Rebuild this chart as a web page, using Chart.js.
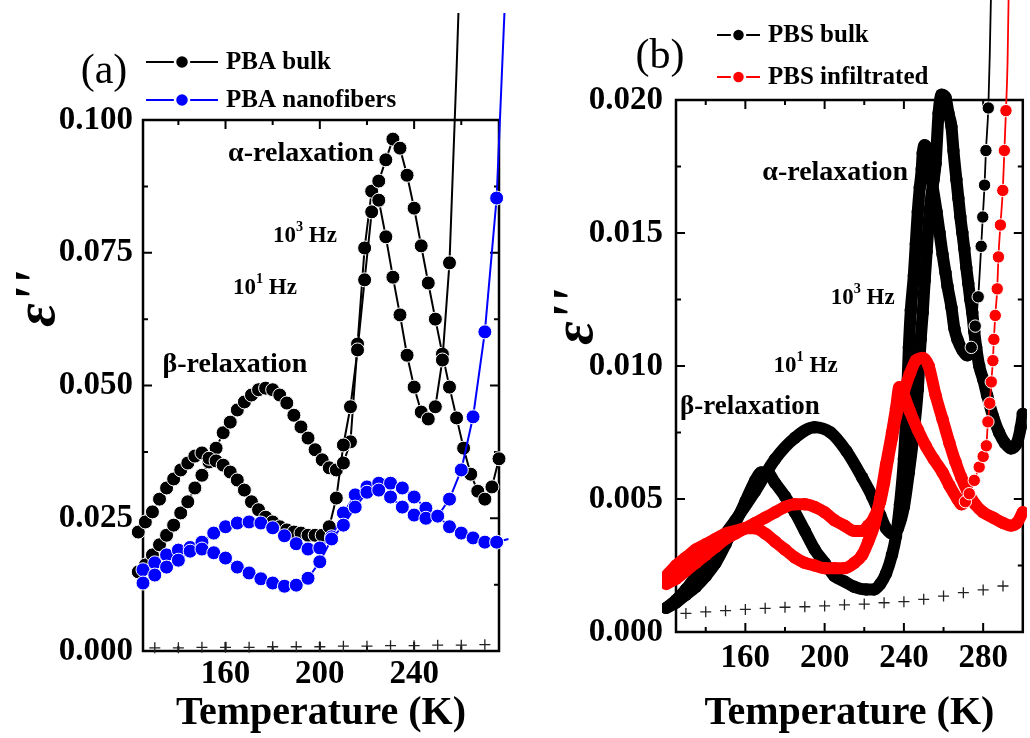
<!DOCTYPE html>
<html>
<head>
<meta charset="utf-8">
<title>Dielectric loss vs temperature</title>
<script src="https://cdn.jsdelivr.net/npm/chart.js@4.4.1/dist/chart.umd.min.js"></script>
<style>
  html, body { margin: 0; padding: 0; background: #fff; }
  #figure { position: relative; width: 1030px; height: 738px; overflow: hidden; }
  #figure canvas { position: absolute; top: 0; }
  #panelA { left: 0; }
  #panelB { left: 515px; }
</style>
</head>
<body>
<div id="figure">
  <canvas id="panelA" width="515" height="738"></canvas>
  <canvas id="panelB" width="515" height="738"></canvas>
</div>
<script>
// ---- (a) PBA: bulk and nanofibers ----
const pbaBulkTemps = [123, 126, 129, 132, 135, 138, 141, 144, 147, 150, 153, 156, 159, 162, 165, 168, 171, 174, 177, 180,
  183, 186, 189, 192, 195, 198, 201, 204, 207, 210, 213, 216, 219, 222, 225, 228, 231, 234, 237, 240,
  243, 246, 249, 252, 255, 258, 261, 264, 267, 270, 273, 276];
const pbaBulk10Hz = [0.0224, 0.0243, 0.0262, 0.0286, 0.0307, 0.0324, 0.0341, 0.0354, 0.0367, 0.0373,
  0.0363, 0.0358, 0.0350, 0.0337, 0.0322, 0.0303, 0.0281, 0.0266, 0.0252, 0.0243,
  0.0234, 0.0228, 0.0224, 0.0222, 0.0218, 0.0218, 0.0218, 0.0234, 0.0288, 0.0388,
  0.0460, 0.0567, 0.0699, 0.0827, 0.0849, 0.0780, 0.0704, 0.0633, 0.0557, 0.0497,
  0.0450, 0.0437, 0.0460, 0.0548, 0.0731, 0.1094, 0.150];
const pbaBulk1kHz = [0.0149, 0.0162, 0.0181, 0.0200, 0.0218, 0.0237, 0.0260, 0.0281, 0.0307, 0.0331,
  0.0356, 0.0382, 0.0411, 0.0431, 0.0454, 0.0469, 0.0482, 0.0492, 0.0495, 0.0492,
  0.0482, 0.0467, 0.0444, 0.0422, 0.0401, 0.0379, 0.0360, 0.0345, 0.0341, 0.0354,
  0.0394, 0.0578, 0.0759, 0.0866, 0.0885, 0.0925, 0.0964, 0.0947, 0.0896, 0.0834,
  0.0763, 0.0693, 0.0625, 0.0559, 0.0497, 0.0439, 0.0382, 0.0333, 0.0301, 0.0286,
  0.0309, 0.0362];

const pbaFiberTemps = [125, 130, 135, 140, 145, 150, 155, 160, 165, 170, 175, 180, 185, 190, 195, 200,
  205, 210, 215, 220, 225, 230, 235, 240, 245, 250, 255, 260, 265, 270, 275, 280];
const pbaFiber10Hz = [0.0128, 0.0143, 0.0158, 0.0171, 0.0188, 0.0192, 0.0185, 0.0175, 0.0158, 0.0147,
  0.0136, 0.0128, 0.0122, 0.0124, 0.0137, 0.0168, 0.0211, 0.0237, 0.0271, 0.0299,
  0.0303, 0.0290, 0.0271, 0.0256, 0.0250, 0.0254, 0.0286, 0.0341, 0.0441, 0.0601,
  0.0853, 0.138];
const pbaFiber1kHz = [0.0153, 0.0166, 0.0181, 0.0190, 0.0195, 0.0205, 0.0222, 0.0234, 0.0241, 0.0243,
  0.0241, 0.0232, 0.0217, 0.0202, 0.0192, 0.0194, 0.0215, 0.0260, 0.0294, 0.0309,
  0.0316, 0.0316, 0.0307, 0.0290, 0.0269, 0.0254, 0.0234, 0.0222, 0.0213, 0.0205,
  0.0205, 0.0211];

const pbaBaselineTemps = [130, 140, 150, 160, 170, 180, 190, 200, 210, 220, 230, 240, 250, 260, 270, 280];
const pbaBaseline = [0.0006, 0.0006, 0.0007, 0.0007, 0.0007, 0.0008, 0.0008, 0.0008,
  0.0009, 0.0009, 0.0010, 0.0010, 0.0011, 0.0011, 0.0012, 0.0013];

// ---- (b) PBS: bulk and infiltrated ----
const pbsBulk10HzTemps = [120, 125, 130, 135, 140, 145, 150, 155, 160, 165, 168, 171, 175, 180, 185, 190, 195, 200, 205, 210,
  215, 221, 225, 228, 231, 234, 236, 238, 240, 241.5, 242.5, 243.5, 245, 246, 247, 248, 249, 249.5, 250.5, 252,
  254, 256.5, 258, 259.5, 261, 262, 264, 265.5, 267, 269.5, 272, 274, 276, 277.5, 279, 279.8, 280.7, 281.4, 282.6, 283.3,
  284.5];
const pbsBulk10Hz = [0.0009, 0.0011, 0.0014, 0.0017, 0.0021, 0.0026, 0.0033, 0.0041, 0.0049, 0.0057,
  0.0060, 0.0060, 0.0056, 0.0051, 0.0045, 0.0038, 0.0031, 0.0026, 0.0021, 0.0019,
  0.0017, 0.0016, 0.0016, 0.0018, 0.0022, 0.0029, 0.0036, 0.0048, 0.0065, 0.0087,
  0.0107, 0.0121, 0.0134, 0.0146, 0.0158, 0.0167, 0.0174, 0.0180, 0.0183, 0.0181,
  0.0170, 0.0158, 0.0150, 0.0142, 0.0135, 0.0130, 0.0122, 0.0114, 0.0110, 0.0106,
  0.0104, 0.0107, 0.0115, 0.0126, 0.0145, 0.0156, 0.0168, 0.0181, 0.0197, 0.0216,
  0.026];
const pbsBulk1kHzTemps = [120, 125, 130, 135, 145, 155, 165, 175, 185, 195, 203, 211, 219, 224, 228, 231, 234, 237, 240, 242.5,
  244.5, 247, 248.5, 249.5, 250.5, 251.5, 252.5, 253.5, 255, 256, 257.5, 259, 261, 262.5, 264, 265, 266.5, 267.5, 268.5, 269.5,
  270.5, 271.5, 272.5, 273.5, 274.5, 275.5, 276.5, 278, 280, 282, 285, 288, 291, 294, 297, 299, 300];
const pbsBulk1kHz = [0.0009, 0.0012, 0.0016, 0.0021, 0.0032, 0.0042, 0.0053, 0.0065, 0.0073, 0.0077,
  0.0075, 0.0068, 0.0058, 0.0051, 0.0044, 0.0039, 0.0037, 0.0039, 0.0047, 0.0060,
  0.0072, 0.0091, 0.0110, 0.0120, 0.0132, 0.0143, 0.0154, 0.0162, 0.0170, 0.0176,
  0.0195, 0.0202, 0.0201, 0.0195, 0.0190, 0.0181, 0.0170, 0.0163, 0.0156, 0.0150,
  0.0144, 0.0137, 0.0131, 0.0125, 0.0120, 0.0113, 0.0107, 0.0100, 0.0095, 0.0089,
  0.0081, 0.0075, 0.0071, 0.0069, 0.0071, 0.0077, 0.0082];

const pbsInf10HzTemps = [120, 125, 130, 135, 140, 145, 150, 155, 160, 165, 170, 175, 180, 185, 190, 195, 200, 205, 210, 215,
  219, 222, 225, 228, 231, 234, 236, 237.7, 240, 243, 247, 251, 255, 259.5, 263, 267, 269, 271, 273, 275.5,
  278, 280, 281.6, 282.4, 283.3, 284.1, 284.9, 285.4, 286.1, 287.1, 287.7, 288.7, 289.9, 290.7, 291.5, 292.3, 293.5];
const pbsInf10Hz = [0.0021, 0.0025, 0.0028, 0.0031, 0.0033, 0.0035, 0.0037, 0.0038, 0.0039, 0.0039,
  0.0037, 0.0034, 0.0031, 0.0028, 0.0026, 0.0025, 0.0024, 0.0024, 0.0024, 0.0026,
  0.0029, 0.0034, 0.0040, 0.0050, 0.0063, 0.0075, 0.0084, 0.0092, 0.0089, 0.0083,
  0.0076, 0.0070, 0.0065, 0.0060, 0.0055, 0.0050, 0.0048, 0.0049, 0.0052, 0.0057,
  0.0062, 0.0066, 0.0070, 0.0079, 0.0086, 0.0094, 0.0102, 0.0110, 0.0119, 0.0129,
  0.0141, 0.0153, 0.0166, 0.0181, 0.0196, 0.0214, 0.027];
const pbsInf1kHzTemps = [120, 125, 130, 135, 140, 145, 150, 155, 160, 165, 170, 175, 180, 185, 190, 195, 200, 205, 210, 215,
  219, 222, 225, 228, 230, 232, 234, 236, 239, 243, 246, 249.6, 252.5, 256, 259.5, 263, 266, 269, 272, 276,
  280, 285, 290, 294, 297, 300];
const pbsInf1kHz = [0.0018, 0.0020, 0.0023, 0.0026, 0.0029, 0.0032, 0.0035, 0.0037, 0.0039, 0.0041,
  0.0043, 0.0045, 0.0047, 0.0048, 0.0048, 0.0047, 0.0045, 0.0042, 0.0040, 0.0038,
  0.0038, 0.0040, 0.0043, 0.0049, 0.0056, 0.0065, 0.0073, 0.0081, 0.0088, 0.0097,
  0.0102, 0.0103, 0.0100, 0.0089, 0.0080, 0.0071, 0.0064, 0.0058, 0.0053, 0.0048,
  0.0045, 0.0043, 0.0041, 0.0040, 0.0041, 0.0045];

const pbsBaselineTemps = [130, 140, 150, 160, 170, 180, 190, 200, 210, 220, 230, 240, 250, 260, 270, 280, 290];
const pbsBaseline = [0.0007, 0.00076, 0.0008, 0.00085, 0.00089, 0.00093, 0.00095, 0.00098, 0.00102,
  0.00105, 0.0011, 0.00114, 0.00123, 0.00135, 0.00148, 0.00158, 0.00173];

// where the sparse high-temperature runs start (thin line, separate dots)
const pbsBulk10HzTailFrom = 274;
const pbsInf10HzTailFrom = 271;

const SERIF = '"Liberation Serif", "Times New Roman", serif';
const BLUE = "#0000ff";
const RED = "#ff0000";

function toPoints(temps, values) {
  return values.map((value, i) => ({ x: temps[i], y: value }));
}

function serif(size, weight, style) {
  return `${style || "normal"} ${weight || "normal"} ${size}px ${SERIF}`;
}

// inward tick marks on all four sides plus the closed frame
function drawAxisTicks(ctx, scale, area, horizontal) {
  const major = scale.ticks.map((t) => t.value);
  const half = (major[1] - major[0]) / 2;
  const eps = half / 100;
  for (let v = Math.ceil((scale.min - eps) / half) * half; v <= scale.max + eps; v += half) {
    if (Math.abs(v - scale.min) < eps || Math.abs(v - scale.max) < eps) continue;
    const len = major.some((m) => Math.abs(m - v) < eps) ? 9 : 5;
    const p = scale.getPixelForValue(v);
    ctx.beginPath();
    if (horizontal) {
      ctx.moveTo(p, area.bottom); ctx.lineTo(p, area.bottom - len);
      ctx.moveTo(p, area.top); ctx.lineTo(p, area.top + len);
    } else {
      ctx.moveTo(area.left, p); ctx.lineTo(area.left + len, p);
      ctx.moveTo(area.right, p); ctx.lineTo(area.right - len, p);
    }
    ctx.stroke();
  }
}

const frameTicks = {
  id: "frameTicks",
  beforeDatasetsDraw(chart) {
    const { ctx, chartArea: area, scales } = chart;
    ctx.save();
    ctx.strokeStyle = "#000";
    ctx.lineWidth = 2;
    drawAxisTicks(ctx, scales.x, area, true);
    drawAxisTicks(ctx, scales.y, area, false);
    ctx.lineWidth = 2.5;
    ctx.strokeRect(area.left, area.top, area.right - area.left, area.bottom - area.top);
    ctx.restore();
  },
};

function drawSupText(ctx, cx, cy, base, sup, rest, size) {
  ctx.font = serif(size, "bold");
  const wBase = ctx.measureText(base).width;
  const wRest = ctx.measureText(rest).width;
  ctx.font = serif(size * 0.62, "bold");
  const wSup = ctx.measureText(sup).width;
  let x = cx - (wBase + wSup + wRest) / 2;
  ctx.textAlign = "left";
  ctx.textBaseline = "middle";
  ctx.font = serif(size, "bold");
  ctx.fillText(base, x, cy);
  x += wBase;
  ctx.font = serif(size * 0.62, "bold");
  ctx.fillText(sup, x, cy - size * 0.36);
  x += wSup;
  ctx.font = serif(size, "bold");
  ctx.fillText(rest, x, cy);
}

// panel letter, legend rows, y title and the in-plot notes
const panelText = {
  id: "panelText",
  afterDraw(chart, _args, opts) {
    const { ctx, scales } = chart;
    ctx.save();
    ctx.fillStyle = "#000";

    ctx.font = serif(opts.letter.size);
    ctx.textAlign = "center";
    ctx.textBaseline = "middle";
    ctx.fillText(opts.letter.text, opts.letter.x, opts.letter.y);

    opts.legend.forEach((row) => {
      ctx.strokeStyle = row.color;
      ctx.lineWidth = 2;
      ctx.beginPath();
      ctx.moveTo(row.x1, row.y);
      ctx.lineTo(row.x2, row.y);
      ctx.stroke();
      ctx.beginPath();
      ctx.arc((row.x1 + row.x2) / 2, row.y, row.r, 0, Math.PI * 2);
      ctx.fillStyle = row.color;
      ctx.fill();
      ctx.strokeStyle = "#fff";
      ctx.lineWidth = 2.5;
      ctx.stroke();
      ctx.fillStyle = "#000";
      ctx.font = serif(opts.legendSize, "bold");
      ctx.textAlign = "left";
      ctx.textBaseline = "middle";
      ctx.fillText(row.text, row.x2 + 8, row.y + 1);
    });

    ctx.save();
    ctx.translate(opts.yTitle.x, opts.yTitle.y);
    ctx.rotate(-Math.PI / 2);
    ctx.font = serif(opts.yTitle.size, "bold", "italic");
    ctx.textAlign = "center";
    ctx.textBaseline = "middle";
    ctx.fillText("\u03b5''", 0, 0);
    ctx.restore();

    opts.notes.forEach((note) => {
      const cx = scales.x.getPixelForValue(note.t);
      const cy = scales.y.getPixelForValue(note.e);
      if (note.sup) {
        drawSupText(ctx, cx, cy, note.text, note.sup, note.rest, note.size);
      } else {
        ctx.font = serif(note.size, "bold");
        ctx.textAlign = "center";
        ctx.textBaseline = "middle";
        ctx.fillText(note.text, cx, cy);
      }
    });
    ctx.restore();
  },
};

function baseline(temps, values, clip) {
  return {
    data: toPoints(temps, values),
    showLine: false,
    pointStyle: "cross",
    pointRadius: 5.5,
    pointBorderWidth: 1.3,
    pointBorderColor: "#222",
    order: 0,
    clip,
  };
}

function pbaSeries(temps, values, color, order) {
  return {
    data: toPoints(temps, values),
    borderColor: color,
    borderWidth: 2,
    pointRadius: 7,
    pointBackgroundColor: color,
    pointBorderColor: "#fff",
    pointBorderWidth: 1,
    tension: 0,
    order,
    clip: { left: 14, top: 107, right: 14, bottom: 8 },
  };
}

function pbsSeries(temps, values, color, tailFrom, order) {
  return {
    data: toPoints(temps, values),
    borderColor: color,
    borderWidth: 12,
    borderJoinStyle: "round",
    borderCapStyle: "round",
    cubicInterpolationMode: "monotone",
    segment: {
      borderWidth: (ctx) => (ctx.p0.parsed.x >= tailFrom ? 1.8 : 12),
    },
    pointRadius: 6.2,
    pointBackgroundColor: color,
    pointBorderColor: "#fff",
    pointBorderWidth: (ctx) => (ctx.raw && ctx.raw.x >= tailFrom ? 1 : 0),
    order,
    clip: { left: 14, top: 100, right: 4, bottom: 6 },
  };
}

function scalesFor(xMin, xMax, yMax, yStep, yWidth, xHeight, yPad, xPad) {
  const tickFont = { family: SERIF, size: 33, weight: "bold" };
  return {
    x: {
      type: "linear",
      min: xMin,
      max: xMax,
      grid: { display: false },
      border: { display: false },
      ticks: { stepSize: 40, includeBounds: false, padding: xPad, color: "#000", font: tickFont, maxRotation: 0 },
      title: {
        display: true,
        text: "Temperature (K)",
        color: "#000",
        font: { family: SERIF, size: 40, weight: "bold" },
        padding: { top: 0, bottom: 0 },
      },
      afterFit: (scale) => { scale.height = xHeight; },
    },
    y: {
      type: "linear",
      min: 0,
      max: yMax,
      grid: { display: false },
      border: { display: false },
      ticks: {
        stepSize: yStep,
        includeBounds: false,
        padding: yPad,
        color: "#000",
        font: tickFont,
        callback: (value) => value.toFixed(3),
      },
      afterFit: (scale) => { scale.width = yWidth; },
    },
  };
}

function commonOptions(padding, scales, text) {
  return {
    responsive: false,
    animation: false,
    devicePixelRatio: 1,
    events: [],
    layout: { padding },
    plugins: { legend: { display: false }, tooltip: { enabled: false }, panelText: text },
    scales,
  };
}

new Chart(document.getElementById("panelA"), {
  type: "line",
  data: {
    datasets: [
      pbaSeries(pbaFiberTemps, pbaFiber10Hz, BLUE, 1),
      pbaSeries(pbaFiberTemps, pbaFiber1kHz, BLUE, 1),
      pbaSeries(pbaBulkTemps, pbaBulk10Hz, "#000", 2),
      pbaSeries(pbaBulkTemps, pbaBulk1kHz, "#000", 2),
      baseline(pbaBaselineTemps, pbaBaseline, { left: 14, top: 0, right: 16, bottom: 8 }),
    ],
  },
  options: commonOptions(
    { left: 0, top: 120, right: 16, bottom: 0 },
    scalesFor(125, 276, 0.1, 0.025, 143, 87, 2, -4),
    {
      letter: { text: "(a)", x: 104, y: 72, size: 42 },
      legendSize: 25,
      legend: [
        { text: "PBA bulk", color: "#000", x1: 146, x2: 218, y: 62, r: 7 },
        { text: "PBA nanofibers", color: BLUE, x1: 146, x2: 218, y: 100, r: 7 },
      ],
      yTitle: { x: 39, y: 299, size: 58 },
      notes: [
        { text: "\u03b1-relaxation", t: 192.0, e: 0.0936, size: 28 },
        { text: "10", sup: "3", rest: " Hz", t: 193.7, e: 0.0782, size: 23 },
        { text: "10", sup: "1", rest: " Hz", t: 176.7, e: 0.0684, size: 23 },
        { text: "\u03b2-relaxation", t: 164.0, e: 0.0539, size: 28 },
      ],
    }
  ),
  plugins: [frameTicks, panelText],
});

new Chart(document.getElementById("panelB"), {
  type: "line",
  data: {
    datasets: [
      pbsSeries(pbsInf10HzTemps, pbsInf10Hz, RED, pbsInf10HzTailFrom, 1),
      pbsSeries(pbsInf1kHzTemps, pbsInf1kHz, RED, Infinity, 1),
      pbsSeries(pbsBulk10HzTemps, pbsBulk10Hz, "#000", pbsBulk10HzTailFrom, 2),
      pbsSeries(pbsBulk1kHzTemps, pbsBulk1kHz, "#000", Infinity, 2),
      baseline(pbsBaselineTemps, pbsBaseline, { left: 14, top: 0, right: 4, bottom: 6 }),
    ],
  },
  options: commonOptions(
    { left: 0, top: 100, right: 2, bottom: 0 },
    scalesFor(125, 300, 0.02, 0.005, 161, 106, 5, -1),
    {
      letter: { text: "(b)", x: 145, y: 57, size: 42 },
      legendSize: 25,
      legend: [
        { text: "PBS bulk", color: "#000", x1: 202, x2: 245, y: 35, r: 6.5 },
        { text: "PBS infiltrated", color: RED, x1: 202, x2: 245, y: 77, r: 6.5 },
      ],
      yTitle: { x: 62, y: 317, size: 58 },
      notes: [
        { text: "\u03b1-relaxation", t: 205.3, e: 0.01726, size: 28 },
        { text: "10", sup: "3", rest: " Hz", t: 219.2, e: 0.01256, size: 23 },
        { text: "10", sup: "1", rest: " Hz", t: 190.4, e: 0.0100, size: 23 },
        { text: "\u03b2-relaxation", t: 162.3, e: 0.00846, size: 27 },
      ],
    }
  ),
  plugins: [frameTicks, panelText],
});
</script>
</body>
</html>
